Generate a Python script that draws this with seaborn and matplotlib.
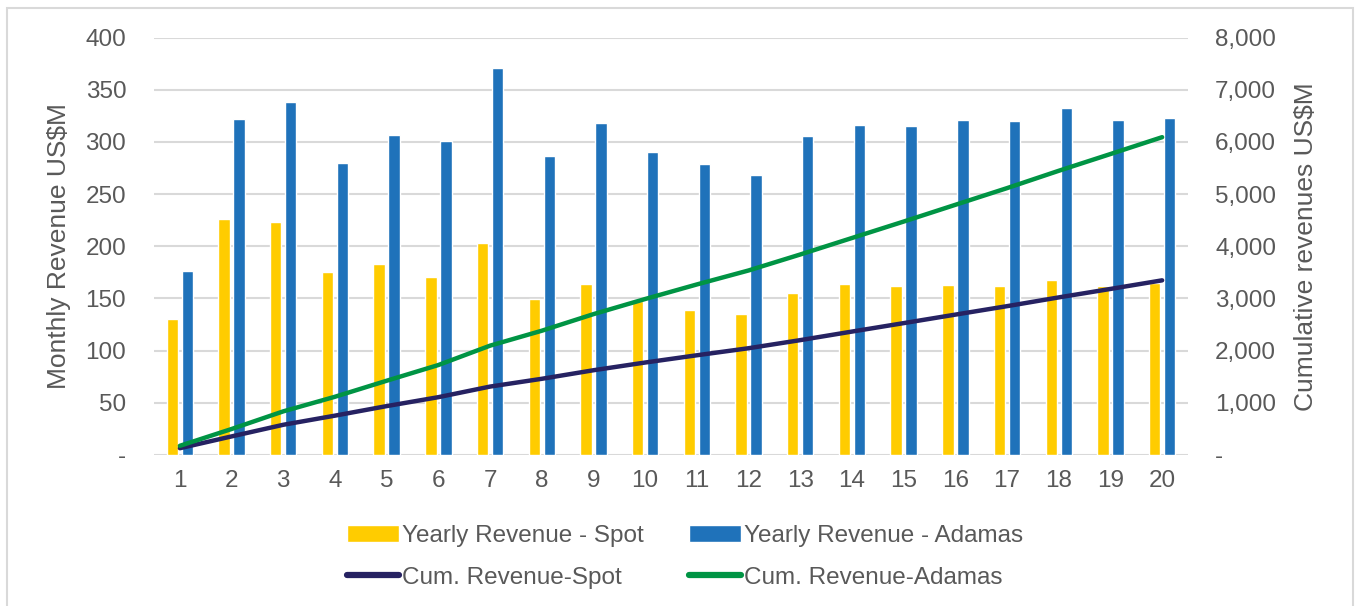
import numpy as np
import pandas as pd
import matplotlib
matplotlib.use('Agg')
import matplotlib.pyplot as plt
import seaborn as sns
from matplotlib.ticker import FuncFormatter
from matplotlib.patches import Patch, Rectangle
from matplotlib.lines import Line2D

# Data
years = list(range(1, 21))
spot_yearly = [130, 226, 223, 175, 183, 171, 203, 149, 164, 148,
               139, 135, 155, 164, 162, 163, 162, 168, 162, 165]
adamas_yearly = [176, 322, 338, 280, 307, 301, 371, 286, 318, 290,
                 279, 268, 306, 316, 315, 321, 320, 332, 321, 323]
spot_cum = [130, 356, 579, 754, 937, 1108, 1311, 1460, 1624, 1772,
            1911, 2046, 2201, 2365, 2527, 2690, 2852, 3020, 3182, 3347]
adamas_cum = [176, 498, 836, 1116, 1423, 1724, 2095, 2381, 2699, 2989,
              3268, 3536, 3842, 4158, 4473, 4794, 5114, 5446, 5767, 6090]

bar_labels = ['Yearly Revenue - Spot', 'Yearly Revenue - Adamas']
line_labels = ['Cum. Revenue-Spot', 'Cum. Revenue-Adamas']

sns.set_theme(style='white')
plt.rcParams['font.family'] = ['Liberation Sans', 'DejaVu Sans']
TXT = '#595959'
GRID = '#d9d9d9'
YELLOW = '#FFCC00'
BLUE = '#1F72BA'
NAVY = '#262262'
GREEN = '#009444'

bars = pd.DataFrame({
    'year': years * 2,
    'value': spot_yearly + adamas_yearly,
    'series': [bar_labels[0]] * len(years) + [bar_labels[1]] * len(years),
})
lines = pd.DataFrame({
    'pos': list(range(len(years))) * 2,
    'value': spot_cum + adamas_cum,
    'series': [line_labels[0]] * len(years) + [line_labels[1]] * len(years),
})

fig = plt.figure(figsize=(13.56, 6.06), dpi=100)
ax = fig.add_axes([154 / 1356, 1 - 455 / 606, (1188 - 154) / 1356, (455 - 37.5) / 606])

sns.barplot(data=bars, x='year', y='value', hue='series', ax=ax,
            palette=[YELLOW, BLUE], width=0.58, gap=0.24, saturation=1,
            legend=False, zorder=2)

ax2 = ax.twinx()
sns.lineplot(data=lines, x='pos', y='value', hue='series', ax=ax2,
             palette=[NAVY, GREEN], linewidth=3.2, legend=False, zorder=3,
             solid_capstyle='round')

ax.set_xlim(-0.5, len(years) - 0.5)
ax.set_ylim(0, 400)
ax2.set_ylim(0, 8000)
ax.set_yticks(np.arange(0, 401, 50))
ax2.set_yticks(np.arange(0, 8001, 1000))
ax.yaxis.set_major_formatter(FuncFormatter(lambda v, p: '-' if v == 0 else f'{v:.0f}'))
ax2.yaxis.set_major_formatter(FuncFormatter(lambda v, p: '-' if v == 0 else f'{v:,.0f}'))

ax.grid(axis='y', color=GRID, linewidth=1.5, zorder=0)
ax.set_axisbelow(True)
for a in (ax, ax2):
    for s in a.spines.values():
        s.set_visible(False)
    a.tick_params(length=0, labelsize=17.5, colors=TXT)
ax.tick_params(axis='y', pad=20)
ax2.tick_params(axis='y', pad=19.5)
ax.tick_params(axis='x', pad=11)

ax.set_xlabel('')
ax.set_ylabel('Monthly Revenue US$M', fontsize=19, color=TXT)
ax.yaxis.set_label_coords(-0.080, 0.5)
ax2.set_xlabel('')
ax2.set_ylabel('Cumulative revenues US$M', fontsize=19, color=TXT)
ax2.yaxis.set_label_coords(1.1025, 0.498)

# Legend below the plot, 2 x 2
handles = [
    Patch(facecolor=YELLOW, label=bar_labels[0]),
    Line2D([], [], color=NAVY, lw=4.5, solid_capstyle='round', label=line_labels[0]),
    Patch(facecolor=BLUE, label=bar_labels[1]),
    Line2D([], [], color=GREEN, lw=4.5, solid_capstyle='round', label=line_labels[1]),
]
leg = fig.legend(handles=handles, ncol=2, loc='center', bbox_to_anchor=(0.505, 1 - 557 / 606),
                 frameon=False, fontsize=17.5, handlelength=2.14, handleheight=0.7,
                 handletextpad=0.12, columnspacing=1.85, labelspacing=0.8)
for t in leg.get_texts():
    t.set_color(TXT)

fig.patches.append(Rectangle((7 / 1356, -0.01), (1353 - 7) / 1356, 1.01 - 8 / 606,
                             transform=fig.transFigure, fill=False,
                             edgecolor=GRID, linewidth=1.5))

fig.savefig('out.png', dpi=100)
